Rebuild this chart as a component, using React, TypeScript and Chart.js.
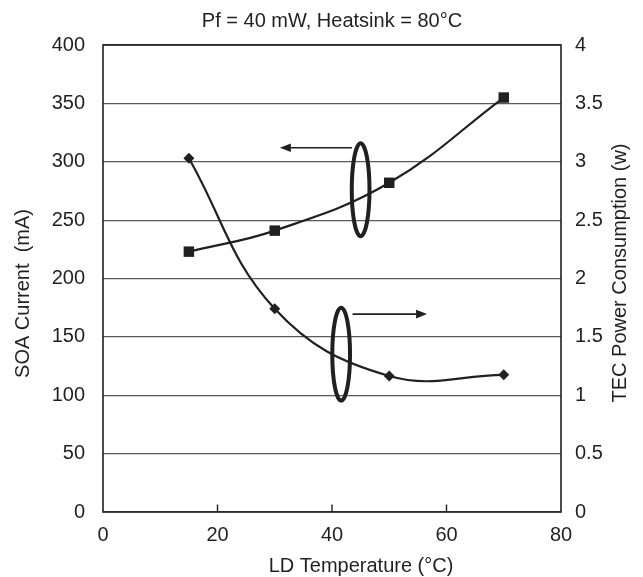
import React, { useEffect, useRef } from "react";
import { Chart, registerables } from "chart.js";

Chart.register(...registerables);

// ---- data ----
const ldTemperature = [15, 30, 50, 70];
const soaCurrent = [223, 241, 282, 355];
const tecPower = [3.03, 1.74, 1.165, 1.175];

const xTickMarks = [20, 40, 60];

const chartTitle = "Pf = 40 mW, Heatsink = 80°C";
const xAxisTitle = "LD Temperature (°C)";
const leftAxisTitle = "SOA Current  (mA)";
const rightAxisTitle = "TEC Power Consumption (w)";

// annotation groups (data units): ellipse centre / radii and arrow span
const soaEllipse = { axis: "y", x: 45, y: 276, rx: 1.55, ry: 39.8 };
const soaArrow = { axis: "y", from: 43.5, to: 30.9, y: 312 };
const tecEllipse = { axis: "y1", x: 41.6, y: 1.352, rx: 1.55, ry: 0.398 };
const tecArrow = { axis: "y1", from: 43.6, to: 56.6, y: 1.695 };

const INK = "#231f20";
const FONT = "'Liberation Sans', Arial, Helvetica, sans-serif";

const decorPlugin = {
  id: "decor",
  beforeDatasetsDraw(chart: any) {
    const { ctx, chartArea: a, scales } = chart;
    ctx.save();
    // frame
    ctx.strokeStyle = INK;
    ctx.lineWidth = 1.6;
    ctx.strokeRect(a.left, a.top, a.right - a.left, a.bottom - a.top);
    // inward ticks on x axis
    ctx.lineWidth = 1.4;
    xTickMarks.forEach((v) => {
      const px = scales.x.getPixelForValue(v);
      ctx.beginPath();
      ctx.moveTo(px, a.bottom);
      ctx.lineTo(px, a.bottom - 7.5);
      ctx.stroke();
    });
    ctx.restore();
  },
  afterDatasetsDraw(chart: any) {
    const { ctx, scales } = chart;
    const x = scales.x;
    ctx.save();
    ctx.strokeStyle = INK;
    ctx.fillStyle = INK;
    [soaEllipse, tecEllipse].forEach((e) => {
      const ys = scales[e.axis];
      const cx = x.getPixelForValue(e.x);
      const cy = ys.getPixelForValue(e.y);
      const rx = Math.abs(x.getPixelForValue(e.x + e.rx) - cx);
      const ry = Math.abs(ys.getPixelForValue(e.y + e.ry) - cy);
      ctx.lineWidth = 4;
      ctx.beginPath();
      ctx.ellipse(cx, cy, rx, ry, 0, 0, Math.PI * 2);
      ctx.stroke();
    });
    [soaArrow, tecArrow].forEach((ar) => {
      const ys = scales[ar.axis];
      const x0 = x.getPixelForValue(ar.from);
      const x1 = x.getPixelForValue(ar.to);
      const py = ys.getPixelForValue(ar.y);
      const dir = Math.sign(x1 - x0);
      const head = 11;
      ctx.lineWidth = 1.6;
      ctx.beginPath();
      ctx.moveTo(x0, py);
      ctx.lineTo(x1 - dir * head, py);
      ctx.stroke();
      ctx.beginPath();
      ctx.moveTo(x1, py);
      ctx.lineTo(x1 - dir * head, py - 4.3);
      ctx.lineTo(x1 - dir * head, py + 4.3);
      ctx.closePath();
      ctx.fill();
    });
    ctx.restore();
  },
  afterDraw(chart: any) {
    const { ctx, chartArea: a } = chart;
    ctx.save();
    ctx.fillStyle = INK;
    ctx.font = `20px ${FONT}`;
    ctx.textAlign = "center";
    ctx.textBaseline = "middle";
    const midY = (a.top + a.bottom) / 2;
    // x title
    ctx.fillText(xAxisTitle, (a.left + a.right) / 2 + 29, a.bottom + 54.5);
    // left title
    ctx.save();
    ctx.translate(a.left - 79.5, midY + 15);
    ctx.rotate(-Math.PI / 2);
    ctx.fillText(leftAxisTitle, 0, 0);
    ctx.restore();
    // right title
    ctx.save();
    ctx.translate(a.right + 59.5, midY - 5.5);
    ctx.rotate(-Math.PI / 2);
    ctx.fillText(rightAxisTitle, 0, 0);
    ctx.restore();
    ctx.restore();
  },
};

export default function App() {
  const ref = useRef<HTMLCanvasElement | null>(null);

  useEffect(() => {
    document.body.style.margin = "0";
    document.body.style.overflow = "hidden";
    const canvas = ref.current;
    if (!canvas) return;
    Chart.defaults.font.family = FONT;
    Chart.defaults.color = INK;

    const chart = new Chart(canvas, {
      type: "line",
      data: {
        datasets: [
          {
            label: "SOA Current",
            data: ldTemperature.map((t, i) => ({ x: t, y: soaCurrent[i] })),
            yAxisID: "y",
            borderColor: INK,
            backgroundColor: INK,
            borderWidth: 2.2,
            pointStyle: "rect",
            pointRadius: 7.4,
            pointBorderWidth: 0,
            pointBackgroundColor: INK,
            tension: 0.4,
            fill: false,
          },
          {
            label: "TEC Power Consumption",
            data: ldTemperature.map((t, i) => ({ x: t, y: tecPower[i] })),
            yAxisID: "y1",
            borderColor: INK,
            backgroundColor: INK,
            borderWidth: 2.2,
            pointStyle: "rectRot",
            pointRadius: 5.5,
            pointBorderWidth: 0,
            pointBackgroundColor: INK,
            tension: 0.4,
            fill: false,
          },
        ],
      },
      options: {
        responsive: false,
        animation: false,
        devicePixelRatio: 1,
        layout: { padding: 0 },
        plugins: {
          legend: { display: false },
          tooltip: { enabled: false },
          title: {
            display: true,
            text: chartTitle,
            fullSize: false,
            color: INK,
            font: { size: 20, weight: "normal", family: FONT },
            padding: { top: 9, bottom: 12 },
          },
        },
        scales: {
          x: {
            type: "linear",
            min: 0,
            max: 80,
            ticks: {
              stepSize: 20,
              padding: 11,
              color: INK,
              font: { size: 20 },
            },
            grid: { display: false, drawTicks: false },
            border: { display: false },
            afterFit: (s: any) => {
              s.height = 65;
            },
          },
          y: {
            type: "linear",
            position: "left",
            min: 0,
            max: 400,
            ticks: {
              stepSize: 50,
              padding: 18,
              color: INK,
              font: { size: 20 },
            },
            grid: { color: "#5a5a5a", lineWidth: 1.2, drawTicks: false },
            border: { display: false },
            afterFit: (s: any) => {
              s.width = 103;
            },
          },
          y1: {
            type: "linear",
            position: "right",
            min: 0,
            max: 4,
            ticks: {
              stepSize: 0.5,
              padding: 14,
              color: INK,
              font: { size: 20 },
              callback: (v: any) => String(v),
            },
            grid: { display: false, drawTicks: false },
            border: { display: false },
            afterFit: (s: any) => {
              s.width = 82;
            },
          },
        },
      },
      plugins: [decorPlugin],
    });
    return () => chart.destroy();
  }, []);

  return (
    <div style={{ width: 643, height: 577 }}>
      <canvas ref={ref} width={643} height={577} style={{ display: "block" }} />
    </div>
  );
}
